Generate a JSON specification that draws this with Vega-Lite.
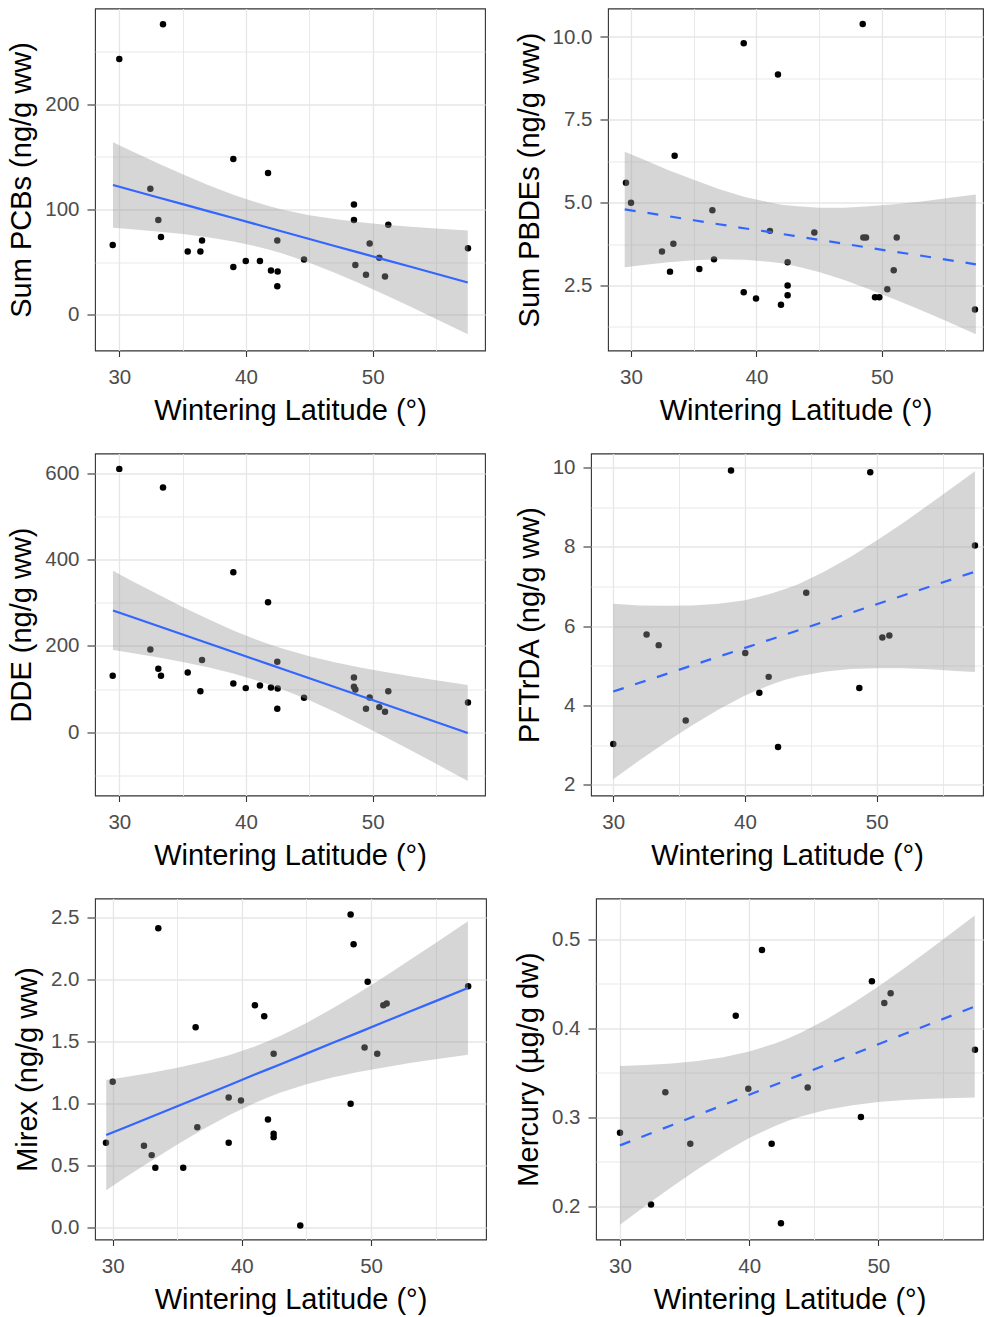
{
  "$schema": "https://vega.github.io/schema/vega-lite/v6.json",
  "padding": {"left": 7, "top": 7.5, "right": 0, "bottom": 0},
  "background": "#ffffff",
  "config": {
    "view": {"stroke": "#333333", "strokeWidth": 1.1},
    "axis": {
      "labelFont": "Liberation Sans", "titleFont": "Liberation Sans",
      "labelFontSize": 20.5, "titleFontSize": 29,
      "labelColor": "#4D4D4D", "titleColor": "#000000", "titleFontWeight": "normal",
      "tickColor": "#333333", "tickWidth": 1.1, "domain": false,
      "gridColor": "#E6E6E6", "labelOverlap": false, "labelFlush": false
    },
    "axisX": {"tickSize": 6, "labelPadding": 11, "titlePadding": 8},
    "axisY": {"tickSize": 8, "labelPadding": 8, "titlePadding": 8}
  },
  "datasets": {
    "pcb": [
      {"lat": 29.48, "value": 66.2}, {"lat": 30.0, "value": 243}, {"lat": 33.45, "value": 276}, {"lat": 32.45, "value": 119.8},
      {"lat": 33.08, "value": 90}, {"lat": 33.29, "value": 73.8}, {"lat": 35.4, "value": 60.2}, {"lat": 36.4, "value": 60.2},
      {"lat": 36.53, "value": 70.6}, {"lat": 39.0, "value": 148}, {"lat": 39.0, "value": 45.3}, {"lat": 39.98, "value": 51},
      {"lat": 41.1, "value": 51}, {"lat": 41.74, "value": 134.6}, {"lat": 41.97, "value": 42.1}, {"lat": 42.5, "value": 41.2},
      {"lat": 42.47, "value": 70.6}, {"lat": 42.47, "value": 27.2}, {"lat": 44.58, "value": 52.6}, {"lat": 48.52, "value": 104.8},
      {"lat": 48.52, "value": 90}, {"lat": 48.63, "value": 47.2}, {"lat": 49.76, "value": 67.8}, {"lat": 49.47, "value": 38},
      {"lat": 50.52, "value": 54.2}, {"lat": 50.97, "value": 36.4}, {"lat": 51.23, "value": 85.5}, {"lat": 57.52, "value": 63.3}
    ],
    "pcb_fit": [
      {"lat": 29.5, "fit": 123.3, "lo": 82.6, "hi": 163.9}, {"lat": 31, "fit": 118.3, "lo": 81.3, "hi": 155.4},
      {"lat": 33, "fit": 111.7, "lo": 79.2, "hi": 144.2}, {"lat": 35, "fit": 105.1, "lo": 76.8, "hi": 133.4},
      {"lat": 37, "fit": 98.5, "lo": 73.7, "hi": 123.3}, {"lat": 39, "fit": 91.9, "lo": 69.7, "hi": 114.0},
      {"lat": 41, "fit": 85.3, "lo": 64.5, "hi": 106.1}, {"lat": 42, "fit": 82.0, "lo": 61.3, "hi": 102.7},
      {"lat": 43, "fit": 78.7, "lo": 57.7, "hi": 99.6}, {"lat": 45, "fit": 72.0, "lo": 49.4, "hi": 94.6},
      {"lat": 47, "fit": 65.4, "lo": 40.0, "hi": 90.9}, {"lat": 49, "fit": 58.8, "lo": 29.7, "hi": 87.9},
      {"lat": 51, "fit": 52.2, "lo": 18.8, "hi": 85.6}, {"lat": 53, "fit": 45.6, "lo": 7.6, "hi": 83.6},
      {"lat": 55, "fit": 39.0, "lo": -3.9, "hi": 81.9}, {"lat": 57.5, "fit": 30.7, "lo": -18.5, "hi": 80.0}
    ],
    "pbde": [
      {"lat": 29.6, "value": 5.60}, {"lat": 30.0, "value": 5.0}, {"lat": 33.48, "value": 6.42}, {"lat": 32.47, "value": 3.53},
      {"lat": 33.38, "value": 3.76}, {"lat": 33.11, "value": 2.92}, {"lat": 35.45, "value": 3.0}, {"lat": 36.49, "value": 4.77},
      {"lat": 36.62, "value": 3.29}, {"lat": 38.99, "value": 9.81}, {"lat": 38.99, "value": 2.30}, {"lat": 39.97, "value": 2.11},
      {"lat": 41.08, "value": 4.15}, {"lat": 41.72, "value": 8.87}, {"lat": 41.96, "value": 1.92}, {"lat": 42.49, "value": 2.5},
      {"lat": 42.49, "value": 2.21}, {"lat": 42.49, "value": 3.20}, {"lat": 44.62, "value": 4.10}, {"lat": 48.48, "value": 10.39},
      {"lat": 48.53, "value": 3.95}, {"lat": 48.74, "value": 3.95}, {"lat": 49.46, "value": 2.15}, {"lat": 49.8, "value": 2.15},
      {"lat": 50.44, "value": 2.39}, {"lat": 50.95, "value": 2.96}, {"lat": 51.19, "value": 3.95}, {"lat": 57.43, "value": 1.78}
    ],
    "pbde_fit": [
      {"lat": 29.5, "fit": 4.80, "lo": 3.05, "hi": 6.54}, {"lat": 31, "fit": 4.71, "lo": 3.12, "hi": 6.30},
      {"lat": 33, "fit": 4.59, "lo": 3.20, "hi": 5.98}, {"lat": 35, "fit": 4.47, "lo": 3.26, "hi": 5.69},
      {"lat": 37, "fit": 4.35, "lo": 3.29, "hi": 5.41}, {"lat": 39, "fit": 4.23, "lo": 3.28, "hi": 5.18},
      {"lat": 41, "fit": 4.12, "lo": 3.22, "hi": 5.01}, {"lat": 42, "fit": 4.06, "lo": 3.17, "hi": 4.94},
      {"lat": 43, "fit": 4.00, "lo": 3.10, "hi": 4.90}, {"lat": 45, "fit": 3.88, "lo": 2.91, "hi": 4.85},
      {"lat": 47, "fit": 3.76, "lo": 2.67, "hi": 4.85}, {"lat": 49, "fit": 3.64, "lo": 2.39, "hi": 4.89},
      {"lat": 51, "fit": 3.52, "lo": 2.09, "hi": 4.95}, {"lat": 53, "fit": 3.41, "lo": 1.78, "hi": 5.03},
      {"lat": 55, "fit": 3.29, "lo": 1.45, "hi": 5.13}, {"lat": 57.5, "fit": 3.14, "lo": 1.03, "hi": 5.25}
    ],
    "dde": [
      {"lat": 29.48, "value": 131}, {"lat": 30.0, "value": 611}, {"lat": 33.45, "value": 567.7}, {"lat": 32.45, "value": 192},
      {"lat": 33.08, "value": 147}, {"lat": 33.29, "value": 131}, {"lat": 35.4, "value": 138.7}, {"lat": 36.4, "value": 95.2},
      {"lat": 36.53, "value": 167.3}, {"lat": 39.0, "value": 371}, {"lat": 39.0, "value": 113}, {"lat": 39.98, "value": 102.2},
      {"lat": 41.1, "value": 108.5}, {"lat": 41.74, "value": 301.3}, {"lat": 41.97, "value": 103.8}, {"lat": 42.5, "value": 101.5},
      {"lat": 42.47, "value": 163.5}, {"lat": 42.47, "value": 54.3}, {"lat": 44.58, "value": 79.9}, {"lat": 48.52, "value": 127},
      {"lat": 48.52, "value": 105.4}, {"lat": 48.63, "value": 99.2}, {"lat": 49.76, "value": 80.6}, {"lat": 49.47, "value": 54.3},
      {"lat": 50.52, "value": 58.1}, {"lat": 50.97, "value": 47.4}, {"lat": 51.23, "value": 95.2}, {"lat": 57.52, "value": 69}
    ],
    "dde_fit": [
      {"lat": 29.5, "fit": 282.5, "lo": 190.6, "hi": 374.4}, {"lat": 31, "fit": 267.3, "lo": 183.6, "hi": 351.0},
      {"lat": 33, "fit": 247.0, "lo": 173.6, "hi": 320.4}, {"lat": 35, "fit": 226.7, "lo": 162.7, "hi": 290.7},
      {"lat": 37, "fit": 206.4, "lo": 150.4, "hi": 262.4}, {"lat": 39, "fit": 186.0, "lo": 135.9, "hi": 236.1},
      {"lat": 41, "fit": 165.7, "lo": 118.7, "hi": 212.7}, {"lat": 42, "fit": 155.5, "lo": 108.8, "hi": 202.2},
      {"lat": 43, "fit": 145.4, "lo": 98.0, "hi": 192.8}, {"lat": 45, "fit": 125.1, "lo": 74.0, "hi": 176.1},
      {"lat": 47, "fit": 104.7, "lo": 47.3, "hi": 162.2}, {"lat": 49, "fit": 84.4, "lo": 18.6, "hi": 150.2},
      {"lat": 51, "fit": 64.1, "lo": -11.3, "hi": 139.5}, {"lat": 53, "fit": 43.8, "lo": -42.1, "hi": 129.6},
      {"lat": 55, "fit": 23.4, "lo": -73.5, "hi": 120.3}, {"lat": 57.5, "fit": -2.0, "lo": -113.2, "hi": 109.2}
    ],
    "pftrda": [
      {"lat": 30.0, "value": 3.03}, {"lat": 32.53, "value": 5.79}, {"lat": 33.45, "value": 5.52}, {"lat": 35.5, "value": 3.62},
      {"lat": 38.94, "value": 9.92}, {"lat": 40.02, "value": 5.32}, {"lat": 41.09, "value": 4.32}, {"lat": 41.8, "value": 4.72},
      {"lat": 42.51, "value": 2.95}, {"lat": 44.65, "value": 6.84}, {"lat": 48.68, "value": 4.44}, {"lat": 49.51, "value": 9.88},
      {"lat": 50.43, "value": 5.71}, {"lat": 50.96, "value": 5.76}, {"lat": 57.46, "value": 8.03}
    ],
    "pftrda_fit": [
      {"lat": 30, "fit": 4.35, "lo": 2.14, "hi": 6.56}, {"lat": 32, "fit": 4.57, "lo": 2.62, "hi": 6.52},
      {"lat": 34, "fit": 4.79, "lo": 3.07, "hi": 6.51}, {"lat": 36, "fit": 5.01, "lo": 3.50, "hi": 6.52},
      {"lat": 38, "fit": 5.23, "lo": 3.90, "hi": 6.56}, {"lat": 40, "fit": 5.45, "lo": 4.25, "hi": 6.65},
      {"lat": 42, "fit": 5.67, "lo": 4.53, "hi": 6.82}, {"lat": 43, "fit": 5.78, "lo": 4.64, "hi": 6.93},
      {"lat": 44, "fit": 5.89, "lo": 4.73, "hi": 7.05}, {"lat": 46, "fit": 6.11, "lo": 4.85, "hi": 7.37},
      {"lat": 48, "fit": 6.33, "lo": 4.92, "hi": 7.74}, {"lat": 50, "fit": 6.55, "lo": 4.94, "hi": 8.16},
      {"lat": 52, "fit": 6.77, "lo": 4.94, "hi": 8.60}, {"lat": 54, "fit": 6.99, "lo": 4.91, "hi": 9.07},
      {"lat": 56, "fit": 7.21, "lo": 4.87, "hi": 9.55}, {"lat": 57.46, "fit": 7.37, "lo": 4.84, "hi": 9.90}
    ],
    "mirex": [
      {"lat": 29.48, "value": 0.683}, {"lat": 30.0, "value": 1.174}, {"lat": 33.53, "value": 2.412}, {"lat": 32.42, "value": 0.658},
      {"lat": 33.02, "value": 0.583}, {"lat": 33.3, "value": 0.481}, {"lat": 35.46, "value": 0.481}, {"lat": 36.42, "value": 1.614},
      {"lat": 36.55, "value": 0.808}, {"lat": 38.98, "value": 1.048}, {"lat": 38.98, "value": 0.683}, {"lat": 39.93, "value": 1.023},
      {"lat": 41.01, "value": 1.791}, {"lat": 41.73, "value": 1.703}, {"lat": 42.02, "value": 0.870}, {"lat": 42.46, "value": 1.4},
      {"lat": 42.46, "value": 0.755}, {"lat": 42.46, "value": 0.728}, {"lat": 44.52, "value": 0.016}, {"lat": 48.42, "value": 2.522},
      {"lat": 48.65, "value": 2.283}, {"lat": 48.42, "value": 0.997}, {"lat": 49.5, "value": 1.45}, {"lat": 49.74, "value": 1.98},
      {"lat": 50.48, "value": 1.40}, {"lat": 50.95, "value": 1.791}, {"lat": 51.21, "value": 1.805}, {"lat": 57.52, "value": 1.944}
    ],
    "mirex_fit": [
      {"lat": 29.5, "fit": 0.745, "lo": 0.300, "hi": 1.189}, {"lat": 31, "fit": 0.808, "lo": 0.404, "hi": 1.213},
      {"lat": 33, "fit": 0.892, "lo": 0.537, "hi": 1.247}, {"lat": 35, "fit": 0.977, "lo": 0.668, "hi": 1.287},
      {"lat": 37, "fit": 1.062, "lo": 0.791, "hi": 1.333}, {"lat": 39, "fit": 1.146, "lo": 0.904, "hi": 1.388},
      {"lat": 41, "fit": 1.232, "lo": 1.004, "hi": 1.459}, {"lat": 42, "fit": 1.274, "lo": 1.048, "hi": 1.500},
      {"lat": 43, "fit": 1.316, "lo": 1.087, "hi": 1.545}, {"lat": 45, "fit": 1.401, "lo": 1.154, "hi": 1.648},
      {"lat": 47, "fit": 1.486, "lo": 1.208, "hi": 1.764}, {"lat": 49, "fit": 1.570, "lo": 1.252, "hi": 1.888},
      {"lat": 51, "fit": 1.655, "lo": 1.290, "hi": 2.019}, {"lat": 53, "fit": 1.740, "lo": 1.325, "hi": 2.155},
      {"lat": 55, "fit": 1.824, "lo": 1.356, "hi": 2.293}, {"lat": 57.5, "fit": 1.930, "lo": 1.392, "hi": 2.468}
    ],
    "hg": [
      {"lat": 30.0, "value": 0.2826}, {"lat": 32.4, "value": 0.2019}, {"lat": 33.51, "value": 0.3282}, {"lat": 35.44, "value": 0.2703},
      {"lat": 38.96, "value": 0.4141}, {"lat": 39.93, "value": 0.332}, {"lat": 40.99, "value": 0.4878}, {"lat": 41.74, "value": 0.2703},
      {"lat": 42.46, "value": 0.1809}, {"lat": 44.53, "value": 0.3334}, {"lat": 48.65, "value": 0.3002}, {"lat": 49.5, "value": 0.4527},
      {"lat": 50.46, "value": 0.4284}, {"lat": 50.95, "value": 0.4392}, {"lat": 57.48, "value": 0.3757}
    ],
    "hg_fit": [
      {"lat": 30, "fit": 0.2684, "lo": 0.1793, "hi": 0.3575}, {"lat": 32, "fit": 0.2798, "lo": 0.2008, "hi": 0.3587},
      {"lat": 34, "fit": 0.2911, "lo": 0.2217, "hi": 0.3605}, {"lat": 36, "fit": 0.3025, "lo": 0.2416, "hi": 0.3633},
      {"lat": 38, "fit": 0.3138, "lo": 0.2601, "hi": 0.3675}, {"lat": 40, "fit": 0.3252, "lo": 0.2766, "hi": 0.3738},
      {"lat": 42, "fit": 0.3366, "lo": 0.2903, "hi": 0.3828}, {"lat": 43, "fit": 0.3422, "lo": 0.2960, "hi": 0.3885},
      {"lat": 44, "fit": 0.3479, "lo": 0.3009, "hi": 0.3949}, {"lat": 46, "fit": 0.3593, "lo": 0.3084, "hi": 0.4101},
      {"lat": 48, "fit": 0.3706, "lo": 0.3136, "hi": 0.4277}, {"lat": 50, "fit": 0.3820, "lo": 0.3170, "hi": 0.4470},
      {"lat": 52, "fit": 0.3934, "lo": 0.3193, "hi": 0.4675}, {"lat": 54, "fit": 0.4047, "lo": 0.3208, "hi": 0.4887},
      {"lat": 56, "fit": 0.4161, "lo": 0.3217, "hi": 0.5105}, {"lat": 57.46, "fit": 0.4244, "lo": 0.3221, "hi": 0.5266}
    ]
  },
  "columns": 1,
  "align": "none",
  "spacing": {"row": 26, "column": 0},
  "concat": [
    {
      "bounds": "flush", "spacing": 123,
      "hconcat": [
        {
          "width": 390, "height": 342,
          "layer": [
            {"data": {"name": "pcb"}, "mark": {"type": "circle", "size": 42, "color": "#000000", "opacity": 1},
             "encoding": {
               "x": {"field": "lat", "type": "quantitative", "title": "Wintering Latitude (°)", "scale": {"domain": [28.082, 58.863], "nice": false, "zero": false},
                     "axis": {"values": [30, 35, 40, 45, 50, 55], "labelExpr": "datum.value % 10 === 0 ? datum.label : ''",
                              "tickOpacity": {"condition": {"test": "datum.value % 10 !== 0", "value": 0}, "value": 1},
                              "gridWidth": {"condition": {"test": "datum.value % 10 !== 0", "value": 0.9}, "value": 1.3}}},
               "y": {"field": "value", "type": "quantitative", "title": "Sum PCBs (ng/g ww)", "scale": {"domain": [-33.9, 290.9], "nice": false, "zero": false},
                     "axis": {"values": [0, 50, 100, 150, 200, 250], "labelExpr": "datum.value % 100 === 0 ? datum.label : ''",
                              "tickOpacity": {"condition": {"test": "datum.value % 100 !== 0", "value": 0}, "value": 1},
                              "gridWidth": {"condition": {"test": "datum.value % 100 !== 0", "value": 0.9}, "value": 1.3}}}
             }},
            {"data": {"name": "pcb_fit"}, "mark": {"type": "area", "color": "#999999", "opacity": 0.4},
             "encoding": {"x": {"field": "lat", "type": "quantitative", "title": "Wintering Latitude (°)"}, "y": {"field": "lo", "type": "quantitative", "title": "Sum PCBs (ng/g ww)"}, "y2": {"field": "hi"}}},
            {"data": {"name": "pcb_fit"}, "mark": {"type": "line", "color": "#3366FF", "strokeWidth": 2.2},
             "encoding": {"x": {"field": "lat", "type": "quantitative", "title": "Wintering Latitude (°)"}, "y": {"field": "fit", "type": "quantitative", "title": "Sum PCBs (ng/g ww)"}}}
          ]
        },
        {
          "width": 375, "height": 342,
          "layer": [
            {"data": {"name": "pbde"}, "mark": {"type": "circle", "size": 42, "color": "#000000", "opacity": 1},
             "encoding": {
               "x": {"field": "lat", "type": "quantitative", "title": "Wintering Latitude (°)", "scale": {"domain": [28.166, 58.07], "nice": false, "zero": false},
                     "axis": {"values": [30, 35, 40, 45, 50, 55], "labelExpr": "datum.value % 10 === 0 ? datum.label : ''",
                              "tickOpacity": {"condition": {"test": "datum.value % 10 !== 0", "value": 0}, "value": 1},
                              "gridWidth": {"condition": {"test": "datum.value % 10 !== 0", "value": 0.9}, "value": 1.3}}},
               "y": {"field": "value", "type": "quantitative", "title": "Sum PBDEs (ng/g ww)", "scale": {"domain": [0.54, 10.86], "nice": false, "zero": false},
                     "axis": {"format": ".1f", "values": [1.25, 2.5, 3.75, 5, 6.25, 7.5, 8.75, 10],
                              "labelExpr": "abs(datum.value / 2.5 - round(datum.value / 2.5)) < 1e-6 ? datum.label : ''",
                              "tickOpacity": {"condition": {"test": "abs(datum.value / 2.5 - round(datum.value / 2.5)) > 1e-6", "value": 0}, "value": 1},
                              "gridWidth": {"condition": {"test": "abs(datum.value / 2.5 - round(datum.value / 2.5)) > 1e-6", "value": 0.9}, "value": 1.3}}}
             }},
            {"data": {"name": "pbde_fit"}, "mark": {"type": "area", "color": "#999999", "opacity": 0.4},
             "encoding": {"x": {"field": "lat", "type": "quantitative", "title": "Wintering Latitude (°)"}, "y": {"field": "lo", "type": "quantitative", "title": "Sum PBDEs (ng/g ww)"}, "y2": {"field": "hi"}}},
            {"data": {"name": "pbde_fit"}, "mark": {"type": "line", "color": "#3366FF", "strokeWidth": 2.2, "strokeDash": [11, 12]},
             "encoding": {"x": {"field": "lat", "type": "quantitative", "title": "Wintering Latitude (°)"}, "y": {"field": "fit", "type": "quantitative", "title": "Sum PBDEs (ng/g ww)"}}}
          ]
        }
      ]
    },
    {
      "bounds": "flush", "spacing": 106,
      "hconcat": [
        {
          "width": 390, "height": 342,
          "layer": [
            {"data": {"name": "dde"}, "mark": {"type": "circle", "size": 42, "color": "#000000", "opacity": 1},
             "encoding": {
               "x": {"field": "lat", "type": "quantitative", "title": "Wintering Latitude (°)", "scale": {"domain": [28.082, 58.863], "nice": false, "zero": false},
                     "axis": {"values": [30, 35, 40, 45, 50, 55], "labelExpr": "datum.value % 10 === 0 ? datum.label : ''",
                              "tickOpacity": {"condition": {"test": "datum.value % 10 !== 0", "value": 0}, "value": 1},
                              "gridWidth": {"condition": {"test": "datum.value % 10 !== 0", "value": 0.9}, "value": 1.3}}},
               "y": {"field": "value", "type": "quantitative", "title": "DDE (ng/g ww)", "scale": {"domain": [-147, 646.7], "nice": false, "zero": false},
                     "axis": {"values": [-100, 0, 100, 200, 300, 400, 500, 600], "labelExpr": "datum.value % 200 === 0 ? datum.label : ''",
                              "tickOpacity": {"condition": {"test": "datum.value % 200 !== 0", "value": 0}, "value": 1},
                              "gridWidth": {"condition": {"test": "datum.value % 200 !== 0", "value": 0.9}, "value": 1.3}}}
             }},
            {"data": {"name": "dde_fit"}, "mark": {"type": "area", "color": "#999999", "opacity": 0.4},
             "encoding": {"x": {"field": "lat", "type": "quantitative", "title": "Wintering Latitude (°)"}, "y": {"field": "lo", "type": "quantitative", "title": "DDE (ng/g ww)"}, "y2": {"field": "hi"}}},
            {"data": {"name": "dde_fit"}, "mark": {"type": "line", "color": "#3366FF", "strokeWidth": 2.2},
             "encoding": {"x": {"field": "lat", "type": "quantitative", "title": "Wintering Latitude (°)"}, "y": {"field": "fit", "type": "quantitative", "title": "DDE (ng/g ww)"}}}
          ]
        },
        {
          "width": 392, "height": 342,
          "layer": [
            {"data": {"name": "pftrda"}, "mark": {"type": "circle", "size": 42, "color": "#000000", "opacity": 1},
             "encoding": {
               "x": {"field": "lat", "type": "quantitative", "title": "Wintering Latitude (°)", "scale": {"domain": [28.31, 58.07], "nice": false, "zero": false},
                     "axis": {"values": [30, 35, 40, 45, 50, 55], "labelExpr": "datum.value % 10 === 0 ? datum.label : ''",
                              "tickOpacity": {"condition": {"test": "datum.value % 10 !== 0", "value": 0}, "value": 1},
                              "gridWidth": {"condition": {"test": "datum.value % 10 !== 0", "value": 0.9}, "value": 1.3}}},
               "y": {"field": "value", "type": "quantitative", "title": "PFTrDA (ng/g ww)", "scale": {"domain": [1.73, 10.35], "nice": false, "zero": false},
                     "axis": {"values": [2, 3, 4, 5, 6, 7, 8, 9, 10], "labelExpr": "datum.value % 2 === 0 ? datum.label : ''",
                              "tickOpacity": {"condition": {"test": "datum.value % 2 !== 0", "value": 0}, "value": 1},
                              "gridWidth": {"condition": {"test": "datum.value % 2 !== 0", "value": 0.9}, "value": 1.3}}}
             }},
            {"data": {"name": "pftrda_fit"}, "mark": {"type": "area", "color": "#999999", "opacity": 0.4},
             "encoding": {"x": {"field": "lat", "type": "quantitative", "title": "Wintering Latitude (°)"}, "y": {"field": "lo", "type": "quantitative", "title": "PFTrDA (ng/g ww)"}, "y2": {"field": "hi"}}},
            {"data": {"name": "pftrda_fit"}, "mark": {"type": "line", "color": "#3366FF", "strokeWidth": 2.2, "strokeDash": [11, 12]},
             "encoding": {"x": {"field": "lat", "type": "quantitative", "title": "Wintering Latitude (°)"}, "y": {"field": "fit", "type": "quantitative", "title": "PFTrDA (ng/g ww)"}}}
          ]
        }
      ]
    },
    {
      "bounds": "flush", "spacing": 110,
      "hconcat": [
        {
          "width": 391, "height": 341,
          "layer": [
            {"data": {"name": "mirex"}, "mark": {"type": "circle", "size": 42, "color": "#000000", "opacity": 1},
             "encoding": {
               "x": {"field": "lat", "type": "quantitative", "title": "Wintering Latitude (°)", "scale": {"domain": [28.63, 58.9], "nice": false, "zero": false},
                     "axis": {"values": [30, 35, 40, 45, 50, 55], "labelExpr": "datum.value % 10 === 0 ? datum.label : ''",
                              "tickOpacity": {"condition": {"test": "datum.value % 10 !== 0", "value": 0}, "value": 1},
                              "gridWidth": {"condition": {"test": "datum.value % 10 !== 0", "value": 0.9}, "value": 1.3}}},
               "y": {"field": "value", "type": "quantitative", "title": "Mirex (ng/g ww)", "scale": {"domain": [-0.097, 2.651], "nice": false, "zero": false},
                     "axis": {"format": ".1f", "values": [0, 0.25, 0.5, 0.75, 1, 1.25, 1.5, 1.75, 2, 2.25, 2.5],
                              "labelExpr": "abs(datum.value * 2 - round(datum.value * 2)) < 1e-6 ? datum.label : ''",
                              "tickOpacity": {"condition": {"test": "abs(datum.value * 2 - round(datum.value * 2)) > 1e-6", "value": 0}, "value": 1},
                              "gridWidth": {"condition": {"test": "abs(datum.value * 2 - round(datum.value * 2)) > 1e-6", "value": 0.9}, "value": 1.3}}}
             }},
            {"data": {"name": "mirex_fit"}, "mark": {"type": "area", "color": "#999999", "opacity": 0.4},
             "encoding": {"x": {"field": "lat", "type": "quantitative", "title": "Wintering Latitude (°)"}, "y": {"field": "lo", "type": "quantitative", "title": "Mirex (ng/g ww)"}, "y2": {"field": "hi"}}},
            {"data": {"name": "mirex_fit"}, "mark": {"type": "line", "color": "#3366FF", "strokeWidth": 2.2},
             "encoding": {"x": {"field": "lat", "type": "quantitative", "title": "Wintering Latitude (°)"}, "y": {"field": "fit", "type": "quantitative", "title": "Mirex (ng/g ww)"}}}
          ]
        },
        {
          "width": 387, "height": 341,
          "layer": [
            {"data": {"name": "hg"}, "mark": {"type": "circle", "size": 42, "color": "#000000", "opacity": 1},
             "encoding": {
               "x": {"field": "lat", "type": "quantitative", "title": "Wintering Latitude (°)", "scale": {"domain": [28.142, 58.1], "nice": false, "zero": false},
                     "axis": {"values": [30, 35, 40, 45, 50, 55], "labelExpr": "datum.value % 10 === 0 ? datum.label : ''",
                              "tickOpacity": {"condition": {"test": "datum.value % 10 !== 0", "value": 0}, "value": 1},
                              "gridWidth": {"condition": {"test": "datum.value % 10 !== 0", "value": 0.9}, "value": 1.3}}},
               "y": {"field": "value", "type": "quantitative", "title": "Mercury (µg/g dw)", "scale": {"domain": [0.1627, 0.5457], "nice": false, "zero": false},
                     "axis": {"format": ".1f", "values": [0.2, 0.25, 0.3, 0.35, 0.4, 0.45, 0.5],
                              "labelExpr": "abs(datum.value * 10 - round(datum.value * 10)) < 1e-6 ? datum.label : ''",
                              "tickOpacity": {"condition": {"test": "abs(datum.value * 10 - round(datum.value * 10)) > 1e-6", "value": 0}, "value": 1},
                              "gridWidth": {"condition": {"test": "abs(datum.value * 10 - round(datum.value * 10)) > 1e-6", "value": 0.9}, "value": 1.3}}}
             }},
            {"data": {"name": "hg_fit"}, "mark": {"type": "area", "color": "#999999", "opacity": 0.4},
             "encoding": {"x": {"field": "lat", "type": "quantitative", "title": "Wintering Latitude (°)"}, "y": {"field": "lo", "type": "quantitative", "title": "Mercury (µg/g dw)"}, "y2": {"field": "hi"}}},
            {"data": {"name": "hg_fit"}, "mark": {"type": "line", "color": "#3366FF", "strokeWidth": 2.2, "strokeDash": [11, 12]},
             "encoding": {"x": {"field": "lat", "type": "quantitative", "title": "Wintering Latitude (°)"}, "y": {"field": "fit", "type": "quantitative", "title": "Mercury (µg/g dw)"}}}
          ]
        }
      ]
    }
  ]
}
